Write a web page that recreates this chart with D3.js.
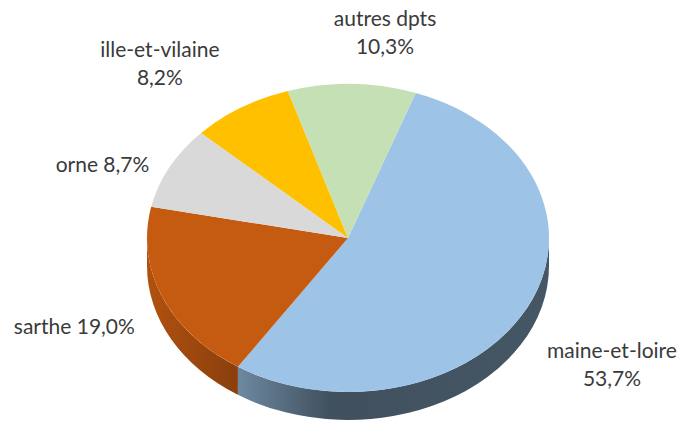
<!DOCTYPE html>
<html>
<head>
<meta charset="utf-8">
<script src="https://cdn.jsdelivr.net/npm/d3@7"></script>
<style>
  body { margin: 0; background: #fff; }
  text { font-family: Lato, "Open Sans", sans-serif; font-size: 21px; fill: #3a3a3a; }
</style>
</head>
<body>
<div id="chart"></div>
<script>
// data, clockwise from the top right
const departements = ["maine-et-loire", "sarthe", "orne", "ille-et-vilaine", "autres dpts"];
const parts = [53.7, 19.0, 8.7, 8.2, 10.3];
const colors = ["#9dc3e6", "#c55a11", "#d9d9d9", "#ffc000", "#c5e0b4"];
const twoLines = [true, false, false, true, true];

// label nudges from the rim point at the middle of each slice
const labelOffset = [[84, 51], [-88, 37], [-67, 5], [-81, -51], [33, -58]];

const width = 681, height = 423;
const cx = 348, cy = 238, rx = 201, ry = 154, depth = 28;
const startAngle = 19.7 * Math.PI / 180;

const svg = d3.select("#chart").append("svg")
    .attr("width", width)
    .attr("height", height);

const pie = d3.pie().sort(null)
    .startAngle(startAngle)
    .endAngle(startAngle + 2 * Math.PI);
const arcs = pie(parts);

let pt = (a, dy) => [cx + rx * Math.sin(a), cy - ry * Math.cos(a) + dy];

// side shading, darkness by x across the pie
const shade = [[0, 0.3], [0.224, 1.0], [0.455, 2.5], [1, 2.3]];
const defs = svg.append("defs");
colors.forEach((c, i) => {
    let g = defs.append("linearGradient")
        .attr("id", "side" + i)
        .attr("gradientUnits", "userSpaceOnUse")
        .attr("x1", cx - rx).attr("x2", cx + rx)
        .attr("y1", 0).attr("y2", 0);
    shade.forEach(s => {
        g.append("stop")
            .attr("offset", s[0])
            .attr("stop-color", d3.color(c).darker(s[1]).formatHex());
    });
});

// visible part of the wall: front half only
let sidePath = (d) => {
    let s = Math.max(d.startAngle, Math.PI / 2);
    let e = Math.min(d.endAngle, 3 * Math.PI / 2);
    if (e <= s) return null;
    let p0 = pt(s, 0), p1 = pt(e, 0), p2 = pt(e, depth), p3 = pt(s, depth);
    return "M" + p0 + "A" + rx + "," + ry + " 0 0 1 " + p1 +
        "L" + p2 + "A" + rx + "," + ry + " 0 0 0 " + p3 + "Z";
};

svg.append("g")
    .selectAll("path")
    .data(arcs.filter(d => sidePath(d)))
    .enter()
    .append("path")
    .attr("d", sidePath)
    .style("fill", d => "url(#side" + d.index + ")");

// top faces: a circular arc squashed into the ellipse
const arc = d3.arc().innerRadius(0).outerRadius(rx);
svg.append("g")
    .attr("transform", "translate(" + cx + "," + cy + ") scale(1," + (ry / rx) + ")")
    .selectAll("path")
    .data(arcs)
    .enter()
    .append("path")
    .attr("d", arc)
    .style("fill", (d, i) => colors[i]);

// labels
const fmt = v => d3.format(".1f")(v).replace(".", ",") + "%";
const labels = svg.append("g");
arcs.forEach((d, i) => {
    let mid = (d.startAngle + d.endAngle) / 2;
    let rim = pt(mid, 0);
    let x = rim[0] + labelOffset[i][0];
    let y = rim[1] + labelOffset[i][1];
    let t = labels.append("text")
        .attr("text-anchor", "middle")
        .attr("x", x).attr("y", y);
    if (twoLines[i]) {
        t.append("tspan").attr("x", x).text(departements[i]);
        t.append("tspan").attr("x", x).attr("dy", 28).text(fmt(parts[i]));
    } else {
        t.text(departements[i] + " " + fmt(parts[i]));
    }
});
</script>
</body>
</html>
